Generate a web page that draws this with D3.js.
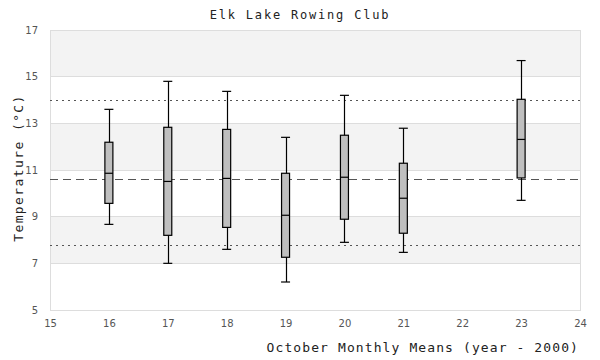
<!DOCTYPE html>
<html><head><meta charset="utf-8">
<script src="https://cdn.jsdelivr.net/npm/d3@7"></script>
<style>body{margin:0;background:#fff}</style>
</head><body>
<svg id="c" width="600" height="360"></svg>
<script>
const years = [16, 17, 18, 19, 20, 21, 23];
const whiskerLow = [8.67, 7.0, 7.6, 6.2, 7.9, 7.47, 9.7];
const q1 = [9.57, 8.2, 8.54, 7.26, 8.89, 8.29, 10.66];
const median = [10.86, 10.51, 10.64, 9.06, 10.69, 9.79, 12.31];
const q3 = [12.19, 12.83, 12.74, 10.86, 12.49, 11.29, 14.03];
const whiskerHigh = [13.6, 14.8, 14.37, 12.4, 14.2, 12.79, 15.69];
const meanLine = [10.61];
const limitLines = [14.0, 7.79];
const xTicks = [15, 16, 17, 18, 19, 20, 21, 22, 23, 24];
const yTicks = [5, 7, 9, 11, 13, 15, 17];
const bands = [[15, 17], [11, 13], [7, 9]];

const svg = d3.select("#c");
const L = 50, R = 580, T = 30, B = 310;
const x = d3.scaleLinear().domain([15, 24]).range([L, R]);
const y = d3.scaleLinear().domain([5, 17]).range([B, T]);

// bands
svg.selectAll("rect.band").data(bands).join("rect")
  .attr("x", L).attr("width", R - L)
  .attr("y", d => y(d[1])).attr("height", d => y(d[0]) - y(d[1]))
  .attr("fill", "#f3f3f3");
// grid
svg.selectAll("line.grid").data(yTicks).join("line")
  .attr("x1", L).attr("x2", R).attr("y1", d => y(d)).attr("y2", d => y(d))
  .attr("stroke", "#dddddd").attr("stroke-width", 1).attr("shape-rendering", "crispEdges");
svg.append("rect").attr("x", L).attr("y", T).attr("width", R - L).attr("height", B - T)
  .attr("fill", "none").attr("stroke", "#dddddd").attr("shape-rendering", "crispEdges");

// reference lines
svg.selectAll("line.lim").data(limitLines).join("line")
  .attr("x1", L).attr("x2", R).attr("y1", d => Math.round(y(d)) + 0.5).attr("y2", d => Math.round(y(d)) + 0.5)
  .attr("stroke", "#555").attr("stroke-width", 1).attr("stroke-dasharray", "2,4");
svg.selectAll("line.mean").data(meanLine).join("line")
  .attr("x1", L).attr("x2", R).attr("y1", d => Math.round(y(d)) + 0.5).attr("y2", d => Math.round(y(d)) + 0.5)
  .attr("stroke", "#555").attr("stroke-width", 1).attr("stroke-dasharray", "8,5");

// axes
const xAxis = d3.axisBottom(x).tickValues(xTicks).tickSize(0).tickPadding(10);
const gx = svg.append("g").attr("transform", `translate(0,${B})`).call(xAxis);
gx.select(".domain").remove();
gx.selectAll("text").attr("font-family", "DejaVu Sans").attr("font-size", 10).attr("fill", "#555");
const yAxis = d3.axisLeft(y).tickValues(yTicks).tickSize(0).tickPadding(12);
const gy = svg.append("g").attr("transform", `translate(${L},0)`).call(yAxis);
gy.select(".domain").remove();
gy.selectAll("text").attr("font-family", "DejaVu Sans").attr("font-size", 10).attr("fill", "#555");

// boxes
const bw = 8, cw = 9;
const data = years.map((yr, i) => ({yr, lo: whiskerLow[i], q1: q1[i], med: median[i], q3: q3[i], hi: whiskerHigh[i]}));
const g = svg.selectAll("g.box").data(data).join("g");
g.append("line").attr("x1", d => Math.round(x(d.yr)) + 0.5).attr("x2", d => Math.round(x(d.yr)) + 0.5)
  .attr("y1", d => y(d.hi)).attr("y2", d => y(d.lo)).attr("stroke", "#000").attr("stroke-width", 1.2);
g.append("line").attr("x1", d => x(d.yr) - cw / 2).attr("x2", d => x(d.yr) + cw / 2)
  .attr("y1", d => y(d.hi)).attr("y2", d => y(d.hi)).attr("stroke", "#000").attr("stroke-width", 1.2);
g.append("line").attr("x1", d => x(d.yr) - cw / 2).attr("x2", d => x(d.yr) + cw / 2)
  .attr("y1", d => y(d.lo)).attr("y2", d => y(d.lo)).attr("stroke", "#000").attr("stroke-width", 1.2);
g.append("rect").attr("x", d => x(d.yr) - bw / 2).attr("width", bw)
  .attr("y", d => y(d.q3)).attr("height", d => y(d.q1) - y(d.q3))
  .attr("fill", "#bfbfbf").attr("stroke", "#000").attr("stroke-width", 1.2);
g.append("line").attr("x1", d => x(d.yr) - bw / 2).attr("x2", d => x(d.yr) + bw / 2)
  .attr("y1", d => y(d.med)).attr("y2", d => y(d.med)).attr("stroke", "#000").attr("stroke-width", 1.2);

// titles
svg.append("text").attr("x", 300).attr("y", 19).attr("text-anchor", "middle")
  .attr("font-family", "DejaVu Sans Mono").attr("font-size", 12).attr("letter-spacing", 1.8)
  .attr("fill", "#222").text("Elk Lake Rowing Club");
svg.append("text").attr("x", 579).attr("y", 352).attr("text-anchor", "end")
  .attr("font-family", "DejaVu Sans Mono").attr("font-size", 13).attr("letter-spacing", 1.1)
  .attr("fill", "#222").text("October Monthly Means (year - 2000)");
svg.append("text").attr("transform", "translate(23,168) rotate(-90)").attr("text-anchor", "middle")
  .attr("font-family", "DejaVu Sans Mono").attr("font-size", 13).attr("letter-spacing", 1.4)
  .attr("fill", "#222").text("Temperature (°C)");
</script>
</body></html>
